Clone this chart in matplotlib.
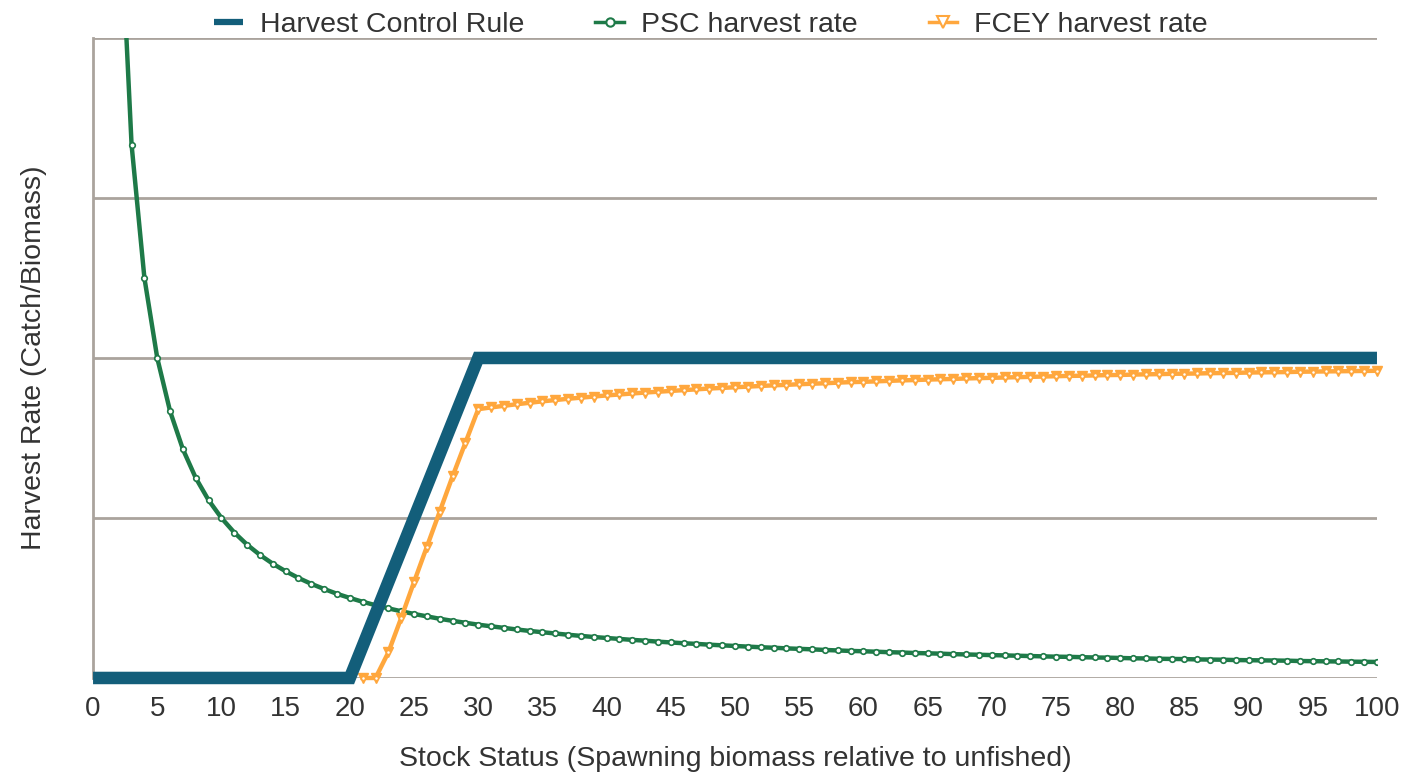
import matplotlib
matplotlib.use('Agg')

import matplotlib.pyplot as plt
from matplotlib.lines import Line2D

plt.rcParams['font.family'] = ['Liberation Sans', 'DejaVu Sans']

# harvest control rule (stock status, harvest rate)
hcr_x = [0, 20, 30, 100]
hcr_y = [0.0, 0.0, 0.2, 0.2]

# PSC harvest rate, one point per unit of stock status
psc_x = list(range(2, 101))
psc_y = [0.5, 0.3333, 0.25, 0.2, 0.1667, 0.1429, 0.125, 0.1111, 0.1,
         0.0909, 0.0833, 0.0769, 0.0714, 0.0667, 0.0625, 0.0588, 0.0556, 0.0526, 0.05,
         0.0476, 0.0455, 0.0435, 0.0417, 0.04, 0.0385, 0.037, 0.0357, 0.0345, 0.0333,
         0.0323, 0.0313, 0.0303, 0.0294, 0.0286, 0.0278, 0.027, 0.0263, 0.0256, 0.025,
         0.0244, 0.0238, 0.0233, 0.0227, 0.0222, 0.0217, 0.0213, 0.0208, 0.0204, 0.02,
         0.0196, 0.0192, 0.0189, 0.0185, 0.0182, 0.0179, 0.0175, 0.0172, 0.0169, 0.0167,
         0.0164, 0.0161, 0.0159, 0.0156, 0.0154, 0.0152, 0.0149, 0.0147, 0.0145, 0.0143,
         0.0141, 0.0139, 0.0137, 0.0135, 0.0133, 0.0132, 0.013, 0.0128, 0.0127, 0.0125,
         0.0123, 0.0122, 0.012, 0.0119, 0.0118, 0.0116, 0.0115, 0.0114, 0.0112, 0.0111,
         0.011, 0.0109, 0.0108, 0.0106, 0.0105, 0.0104, 0.0103, 0.0102, 0.0101, 0.01]

# FCEY harvest rate
fcey_x = list(range(21, 101))
fcey_y = [0.0, 0.0, 0.016, 0.0375, 0.060, 0.082, 0.104, 0.126, 0.147,
          0.1680, 0.1691, 0.1701, 0.1711, 0.1720, 0.1729, 0.1737, 0.1745, 0.1752, 0.1759,
          0.1766, 0.1772, 0.1778, 0.1784, 0.1789, 0.1794, 0.1799, 0.1804, 0.1809, 0.1813,
          0.1817, 0.1821, 0.1825, 0.1829, 0.1832, 0.1836, 0.1839, 0.1842, 0.1846, 0.1849,
          0.1851, 0.1854, 0.1857, 0.1860, 0.1862, 0.1865, 0.1867, 0.1869, 0.1872, 0.1874,
          0.1876, 0.1878, 0.1880, 0.1882, 0.1884, 0.1886, 0.1888, 0.1889, 0.1891, 0.1893,
          0.1894, 0.1896, 0.1898, 0.1899, 0.1901, 0.1902, 0.1903, 0.1905, 0.1906, 0.1907,
          0.1909, 0.1910, 0.1911, 0.1912, 0.1914, 0.1915, 0.1916, 0.1917, 0.1918, 0.1919,
          0.1920]

xticks = list(range(0, 101, 5))
yticks = [0.0, 0.1, 0.2, 0.3, 0.4]

text_col = '#333333'
grid_col = '#aaa39d'
hcr_col = '#135e7a'
psc_col = '#1e7a48'
fcey_col = '#ffa73d'

fig = plt.figure(figsize=(14.25, 7.75), dpi=100)
ax = fig.add_axes([0.0653, 0.1252, 0.9010, 0.8258])

for yv in yticks:
    ax.plot([0, 100], [yv, yv], color=grid_col, lw=2, zorder=1, solid_capstyle='butt')

ax.plot(hcr_x, hcr_y, color=hcr_col, lw=9, zorder=4, clip_on=False,
        solid_joinstyle='miter', solid_capstyle='butt')
ax.plot(psc_x, psc_y, color=psc_col, lw=3.2, marker='o', ms=4,
        mfc='white', mec=psc_col, mew=1.2, zorder=3)
ax.plot(fcey_x, fcey_y, color=fcey_col, lw=3.2, marker='v', ms=6.5,
        mfc=fcey_col, mec=fcey_col, zorder=3, clip_on=False)
ax.plot(fcey_x, fcey_y, ls='none', marker='o', ms=1.8, mfc='white', mec='none',
        zorder=3.5, clip_on=False)

ax.set_xlim(0, 100)
ax.set_ylim(0, 0.4)
ax.set_xticks(xticks)
ax.set_xticklabels([str(v) for v in xticks])
ax.set_yticks([])
ax.tick_params(axis='x', length=0, pad=13, labelsize=20, labelcolor=text_col)
for s in ['top', 'right', 'bottom']:
    ax.spines[s].set_visible(False)
ax.spines['left'].set_color(grid_col)
ax.spines['left'].set_linewidth(2)

ax.set_xlabel('Stock Status (Spawning biomass relative to unfished)', fontsize=20.5,
              color=text_col, labelpad=17)
ax.set_ylabel('Harvest Rate (Catch/Biomass)', fontsize=20.5, color=text_col, labelpad=33)

h1 = Line2D([], [], color=hcr_col, lw=4.5, solid_capstyle='butt')
h2 = Line2D([], [], color=psc_col, lw=2.5, marker='o', ms=6, mfc='white', mec=psc_col, mew=1.5)
h3 = Line2D([], [], color=fcey_col, lw=2.5, marker='v', ms=8, mfc='white', mec=fcey_col, mew=1.5)
fig.legend(handles=[h1, h2, h3],
           labels=['Harvest Control Rule', 'PSC harvest rate', 'FCEY harvest rate'],
           loc='upper center', bbox_to_anchor=(0.499, 1.018), ncol=3, frameon=False,
           fontsize=20.5, handlelength=1.0, columnspacing=2.5, handletextpad=0.6,
           labelcolor=text_col)

plt.savefig('out.png', dpi=100)
